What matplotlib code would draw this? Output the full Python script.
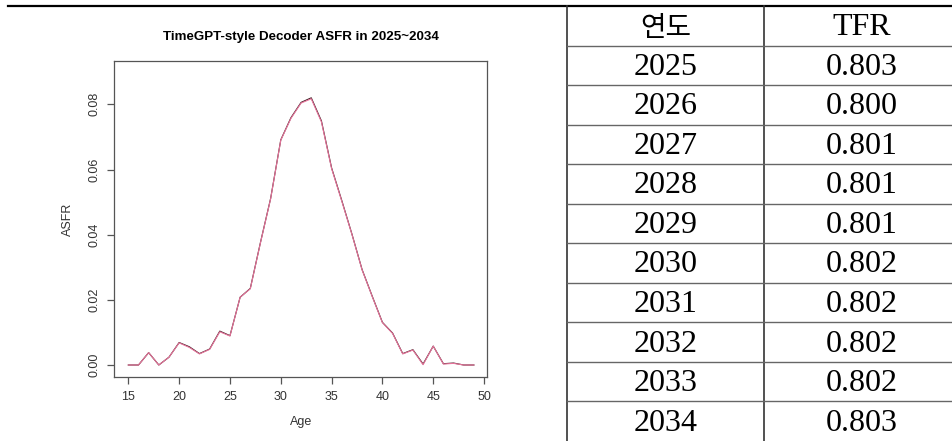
import matplotlib.pyplot as plt

# ASFR by single age
ages = list(range(15, 50))
asfr_2034 = [0.0000, 0.0000, 0.0038, 0.0000, 0.0024, 0.0068, 0.0054, 0.0034,
             0.0048, 0.0102, 0.0089, 0.0208, 0.0234, 0.0375, 0.0510, 0.0690,
             0.0757, 0.0804, 0.0817, 0.0746, 0.0603, 0.0503, 0.0401, 0.0292,
             0.0210, 0.0130, 0.0097, 0.0034, 0.0046, 0.0001, 0.0058, 0.0003,
             0.0005, 0.0000, 0.0000]
asfr_2025 = [0.0000, 0.0000, 0.0038, 0.0000, 0.0024, 0.0069, 0.0056, 0.0035,
             0.0049, 0.0104, 0.0090, 0.0208, 0.0235, 0.0376, 0.0511, 0.0691,
             0.0759, 0.0806, 0.0820, 0.0749, 0.0605, 0.0505, 0.0402, 0.0293,
             0.0211, 0.0131, 0.0098, 0.0035, 0.0047, 0.0003, 0.0058, 0.0004,
             0.0006, 0.0000, 0.0000]

# table on the right
years = ["2025", "2026", "2027", "2028", "2029",
         "2030", "2031", "2032", "2033", "2034"]
tfr = ["0.803", "0.800", "0.801", "0.801", "0.801",
       "0.802", "0.802", "0.802", "0.802", "0.803"]
header = ["연도", "TFR"]

W, H = 952, 441
fig = plt.figure(figsize=(W / 100, H / 100), dpi=100)

# ---- chart ----
left, right, top, bottom = 114, 487.3, 61, 376.7
ax = fig.add_axes([left / W, 1 - bottom / H, (right - left) / W, (bottom - top) / H])
ax.plot(ages, asfr_2025, color="#3a1a1e", lw=0.8)
ax.plot(ages, asfr_2034, color="#e8749c", lw=0.8)
ax.set_xlim(13.59, 50.32)
ax.set_ylim(-0.00359, 0.0933)
ax.set_xticks([15, 20, 25, 30, 35, 40, 45, 50])
ax.set_yticks([0.00, 0.02, 0.04, 0.06, 0.08])
ax.set_yticklabels(["0.00", "0.02", "0.04", "0.06", "0.08"])
for s in ax.spines.values():
    s.set_color("#555555")
    s.set_linewidth(0.9)
ax.tick_params(axis="both", colors="#555555", length=5, width=0.9,
               labelsize=9, labelcolor="#333333", pad=5)
for lab in ax.get_yticklabels():
    lab.set_rotation(90)
    lab.set_va("center")
    lab.set_family("Liberation Sans")
for lab in ax.get_xticklabels():
    lab.set_family("Liberation Sans")
ax.set_xlabel("Age", fontsize=9, color="#333333", family="Liberation Sans", labelpad=10)
ax.set_ylabel("ASFR", fontsize=9, color="#333333", family="Liberation Sans", labelpad=10)
ax.set_title("TimeGPT-style Decoder ASFR in 2025~2034", fontsize=9.6,
             fontweight="bold", family="Liberation Sans", pad=15)

# ---- table (pixel overlay) ----
ov = fig.add_axes([0, 0, 1, 1])
ov.set_xlim(0, W)
ov.set_ylim(H, 0)
ov.axis("off")

col_x = [567, 764, W]
row0 = 6
row_h = 39.53
ov.plot([8, W], [row0, row0], color="black", lw=1.6)
ov.plot([col_x[0], col_x[0]], [row0, H], color="#333333", lw=1.2)
ov.plot([col_x[1], col_x[1]], [row0, H], color="#333333", lw=1.2)
for k in range(1, len(years) + 1):
    y = row0 + k * row_h
    ov.plot([col_x[0], W], [y, y], color="#666666", lw=1.0)

fam = ["Liberation Serif", "Noto Sans CJK KR"]
cx1 = (col_x[0] + col_x[1]) / 2
cx2 = (col_x[1] + col_x[2]) / 2 + 4
dy = 2
ov.text(cx1, row0 + row_h / 2 + dy, header[0], ha="center", va="center",
        fontsize=20, family=["Noto Sans CJK KR"], fontweight="light")
ov.text(cx2, row0 + row_h / 2 + dy, header[1], ha="center", va="center",
        fontsize=23, family=fam)
for i, (yr, v) in enumerate(zip(years, tfr)):
    yc = row0 + (i + 1.5) * row_h + dy
    ov.text(cx1, yc, yr, ha="center", va="center", fontsize=23, family=fam)
    ov.text(cx2, yc, v, ha="center", va="center", fontsize=23, family=fam)

fig.savefig("out.png", dpi=100)
